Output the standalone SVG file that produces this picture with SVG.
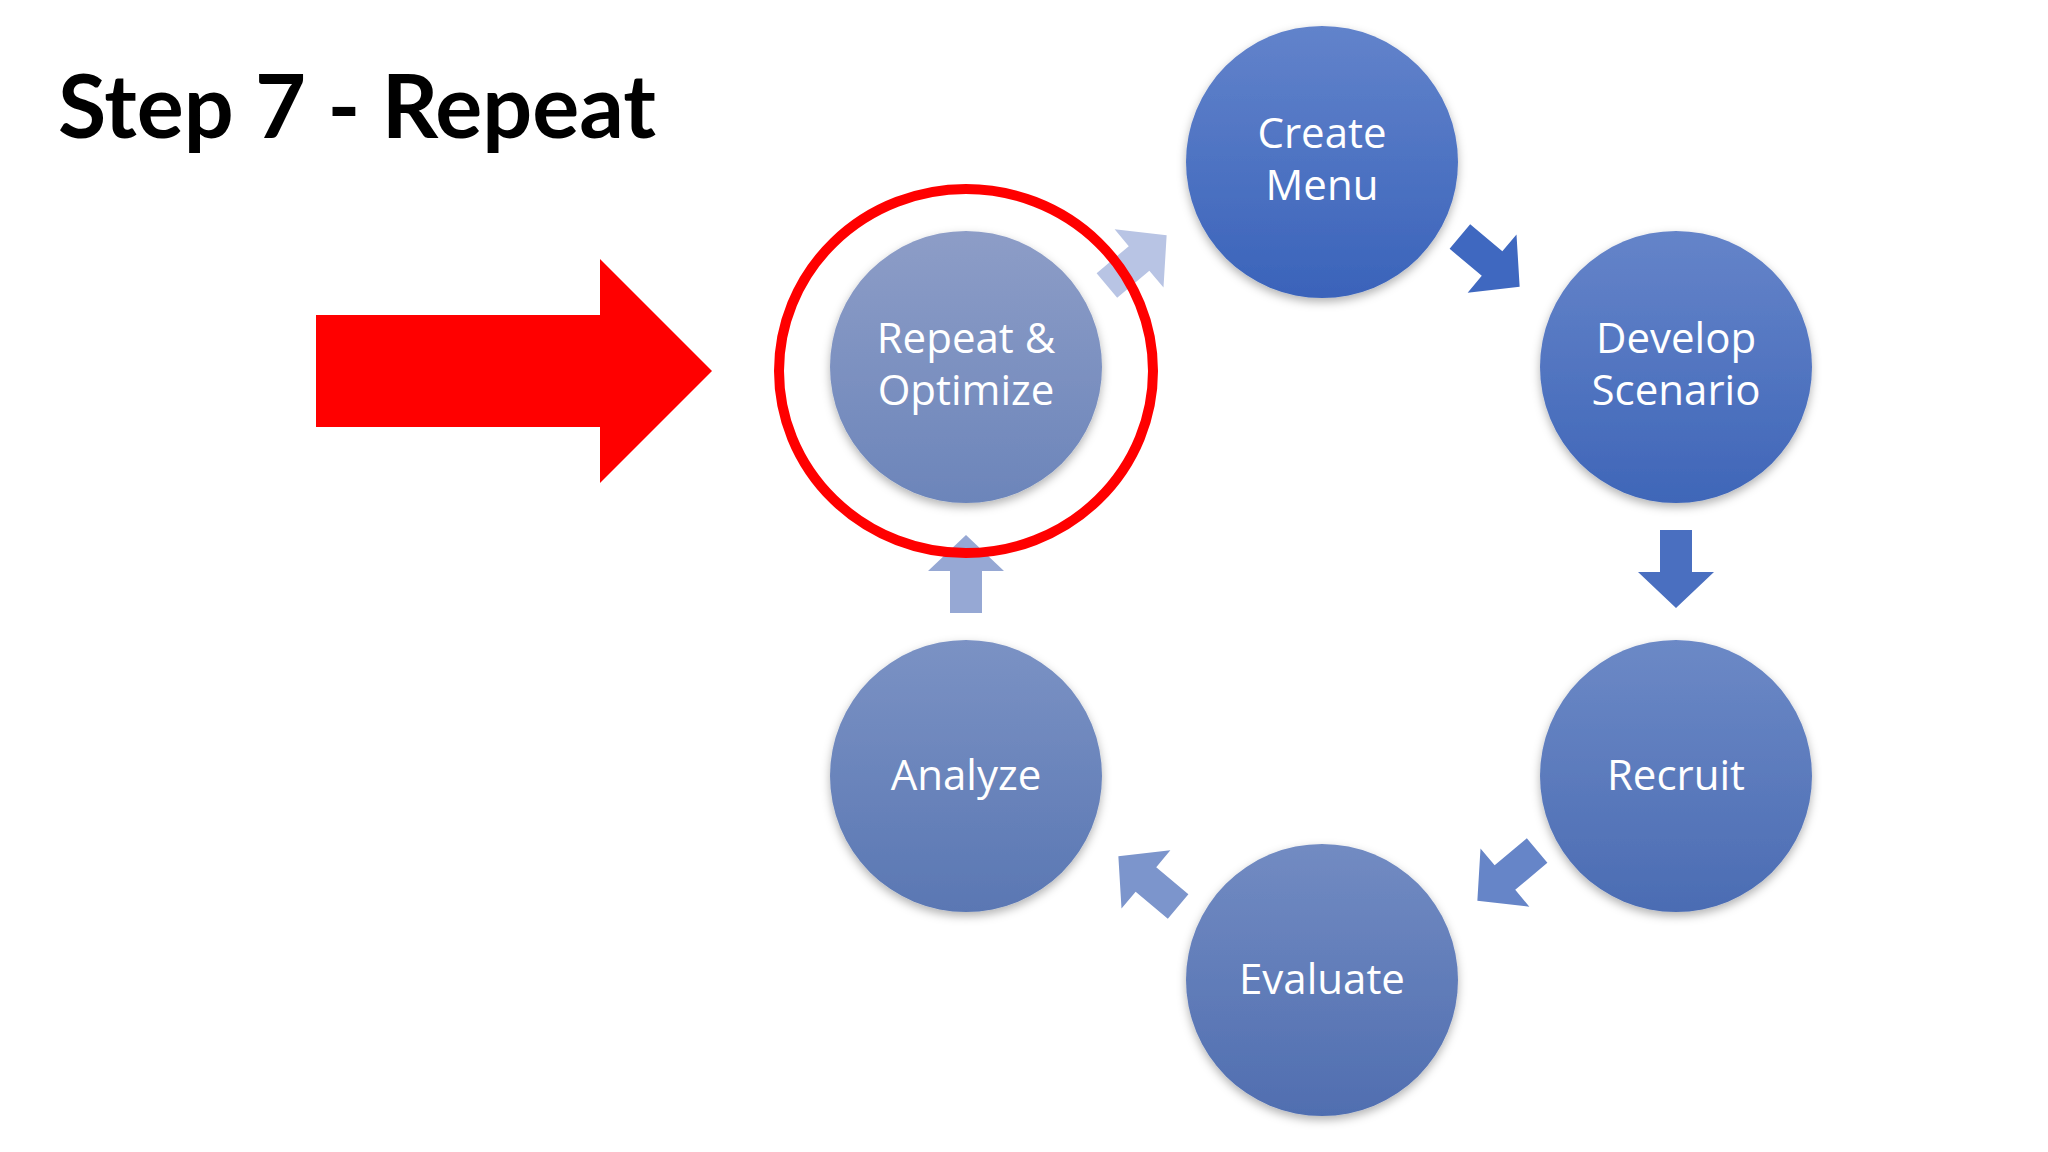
<svg xmlns="http://www.w3.org/2000/svg" width="2048" height="1152" viewBox="0 0 2048 1152">
<defs>
<linearGradient id="g1" x1="0" y1="0" x2="0" y2="1"><stop offset="0" stop-color="#6283cb"/><stop offset="1" stop-color="#3a63ba"/></linearGradient>
<linearGradient id="g2" x1="0" y1="0" x2="0" y2="1"><stop offset="0" stop-color="#6584c9"/><stop offset="1" stop-color="#3f66b8"/></linearGradient>
<linearGradient id="g3" x1="0" y1="0" x2="0" y2="1"><stop offset="0" stop-color="#6c89c6"/><stop offset="1" stop-color="#4b6cb3"/></linearGradient>
<linearGradient id="g4" x1="0" y1="0" x2="0" y2="1"><stop offset="0" stop-color="#728bc2"/><stop offset="1" stop-color="#506eb0"/></linearGradient>
<linearGradient id="g5" x1="0" y1="0" x2="0" y2="1"><stop offset="0" stop-color="#7b92c4"/><stop offset="1" stop-color="#5a77b3"/></linearGradient>
<linearGradient id="g6" x1="0" y1="0" x2="0" y2="1"><stop offset="0" stop-color="#8d9dc7"/><stop offset="1" stop-color="#6c85ba"/></linearGradient>
<filter id="sh" x="-20%" y="-20%" width="140%" height="140%"><feDropShadow dx="0" dy="4" stdDeviation="5" flood-opacity="0.3"/></filter>
<path id="arr" d="M-38,-16 H4 V-38 L40,0 L4,38 V16 H-38 Z"/>
<style>
.t{font-family:"Open Sans","Liberation Sans",sans-serif;font-size:42px;fill:#fff;text-anchor:middle}
</style>
</defs>
<rect width="2048" height="1152" fill="#fff"/>
<text x="58" y="138" font-family="Lato,'Open Sans',sans-serif" font-weight="bold" font-size="88" fill="#000">Step 7 - Repeat</text>
<path d="M316,315 H600 V259 L712,371 L600,483 V427 H316 Z" fill="#ff0000"/>
<g id="connectors">
<use href="#arr" transform="translate(1489,261) rotate(40)" fill="#3f68c0"/>
<use href="#arr" transform="translate(1676,568) rotate(90)" fill="#4a6fc0"/>
<use href="#arr" transform="translate(1508,875) rotate(140)" fill="#6685c8"/>
<use href="#arr" transform="translate(1149,882) rotate(220)" fill="#7c95cc"/>
<use href="#arr" transform="translate(966,575) rotate(-90)" fill="#96a8d4"/>
<use href="#arr" transform="translate(1136,261) rotate(-40)" fill="#b8c4e4"/>
</g>
<g id="create"><circle cx="1322" cy="162" r="136" fill="url(#g1)" filter="url(#sh)"/><text class="t" x="1322" y="148">Create</text><text class="t" x="1322" y="200">Menu</text></g>
<g id="develop"><circle cx="1676" cy="367" r="136" fill="url(#g2)" filter="url(#sh)"/><text class="t" x="1676" y="353">Develop</text><text class="t" x="1676" y="405">Scenario</text></g>
<g id="recruit"><circle cx="1676" cy="776" r="136" fill="url(#g3)" filter="url(#sh)"/><text class="t" x="1676" y="790">Recruit</text></g>
<g id="evaluate"><circle cx="1322" cy="980" r="136" fill="url(#g4)" filter="url(#sh)"/><text class="t" x="1322" y="994">Evaluate</text></g>
<g id="analyze"><circle cx="966" cy="776" r="136" fill="url(#g5)" filter="url(#sh)"/><text class="t" x="966" y="790">Analyze</text></g>
<g id="repeat"><circle cx="966" cy="367" r="136" fill="url(#g6)" filter="url(#sh)"/><text class="t" x="966" y="353">Repeat &amp;</text><text class="t" x="966" y="405">Optimize</text></g>
<ellipse cx="966" cy="371" rx="187" ry="182" fill="none" stroke="#ff0000" stroke-width="10"/>
</svg>
